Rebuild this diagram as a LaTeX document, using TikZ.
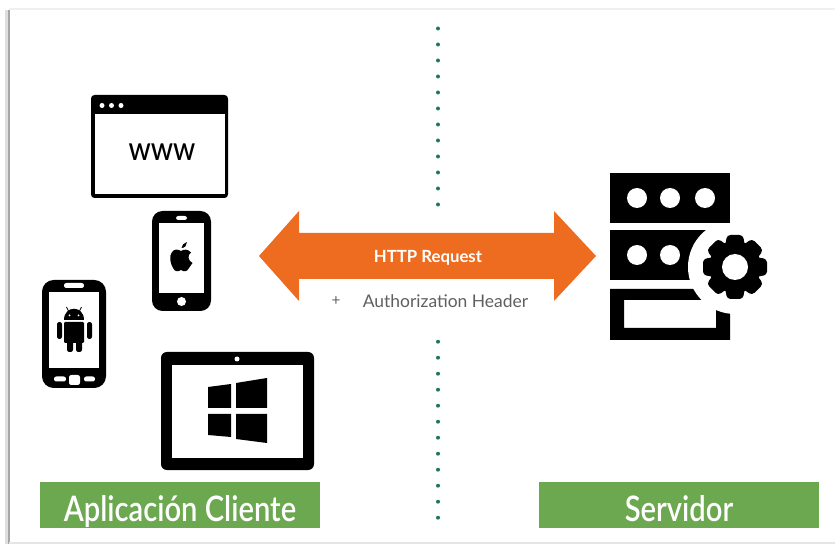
\documentclass[tikz,border=0pt]{standalone}
\usepackage{fontspec}
\setmainfont{Lato}
\newfontfamily\estrecha[FakeStretch=0.83]{Lato Semibold}
\newfontfamily\estrechab[FakeStretch=0.86]{Lato Medium}
\definecolor{flecha}{HTML}{EE6C1F}
\definecolor{verde}{HTML}{6CA84F}
\definecolor{punto}{HTML}{1F7A4D}
\definecolor{texto}{HTML}{5F5F5F}
\tikzset{
  device/.style={fill=black,rounded corners=5},
  blanco/.style={fill=white},
  greenbox/.style={fill=verde,text=white,minimum width=8.37cm,minimum height=1.38cm,inner sep=0pt},
}

\begin{document}
\begin{tikzpicture}[x=0.03cm,y=-0.03cm]
\useasboundingbox (0,0) rectangle (835,544);

% marco
\draw [line width=2.5,color=gray!25] (6.5,10) -- (6.5,544);
\draw [line width=2,color=gray!70] (9,10) -- (9,544);
\draw [line width=2,color=gray!12] (9,9) -- (835,9);
\draw [line width=1.5,color=gray!20] (9,543) -- (835,543);

% linea de puntos
\foreach \i in {0,...,11} \fill[punto] (438,28.5+16*\i) circle (2);
\foreach \i in {0,...,11} \fill[punto] (438,341.7+16*\i) circle (2);

% navegador
\fill[device,rounded corners=3] (91,95) rectangle (228,198);
\fill[blanco] (94.5,114) rectangle (224.5,194.5);
\fill[blanco] (102,105.5) circle (2.5);
\fill[blanco] (111.5,105.5) circle (2.5);
\fill[blanco] (121,105.5) circle (2.5);
\node (www) at (162,152) {\estrechab\fontsize{28}{28}\selectfont www};

% iphone
\fill[device,rounded corners=9] (152,211) rectangle (211,311);
\fill[blanco] (159,223) rectangle (204,293);
\fill[blanco,rounded corners=2] (176,216) rectangle (187,220);
\fill[blanco] (181.5,301.5) circle (4.5);
\fill (181,251) .. controls (178,249) and (174,249) .. (172,252) .. controls (169,256) and (170,263) .. (173,268) .. controls (175,272) and (178,272) .. (181,270) .. controls (184,272) and (187,272) .. (189,268) .. controls (190,266) and (192,264) .. (192.5,263) .. controls (188,261) and (187,255) .. (191,252.5) .. controls (188,249) and (184,249) .. (181,251) -- cycle;
\fill (181.5,248) .. controls (181.5,245) and (184,243) .. (187,242) .. controls (187,245) and (185,248) .. (181.5,248) -- cycle;

% android
\fill[device,rounded corners=10] (42,280) rectangle (106,388);
\fill[blanco] (49,292) rectangle (99,368);
\fill[blanco,rounded corners=2] (64,283) rectangle (84,288);
\fill[blanco,rounded corners=2] (54,376.5) rectangle (66,381.5);
\fill[blanco,rounded corners=2] (69,375) rectangle (80,385);
\fill[blanco,rounded corners=2] (84,376.5) rectangle (95,381.5);
\fill (64,320) .. controls (64,305) and (84,305) .. (84,320) -- cycle;
\fill[rounded corners=1] (64,322) -- (84,322) -- (84,343) -- (64,343) -- cycle;
\fill[rounded corners=2] (57,322) rectangle (62,339);
\fill[rounded corners=2] (87,322) rectangle (92,339);
\fill[rounded corners=2] (67,340) rectangle (73,352);
\fill[rounded corners=2] (76,340) rectangle (82,352);
\draw[line width=0.7] (66.5,307) -- (69,312);
\draw[line width=0.7] (81.5,307) -- (79,312);
\fill[blanco] (69.5,315.5) circle (1);
\fill[blanco] (78.5,315.5) circle (1);

% tablet
\fill[device] (161,352) rectangle (314,470);
\fill[blanco] (172,365) rectangle (303,458);
\fill[blanco] (237,359) circle (2.5);
\fill (208,387) -- (231,384) -- (231,408) -- (208,408) -- cycle;
\fill (236,383) -- (267,378) -- (267,408) -- (236,408) -- cycle;
\fill (208,414) -- (231,414) -- (231,437) -- (208,435) -- cycle;
\fill (236,414) -- (267,414) -- (267,443) -- (236,439) -- cycle;

% flecha
\fill[flecha] (259,256) -- (299,211) -- (299,233) -- (554,233) -- (554,211) -- (596,256) -- (554,301) -- (554,279) -- (299,279) -- (299,301) -- cycle;
\node (http) at (428,258) [text=white,font=\bfseries] {\fontsize{14.3}{14.3}\selectfont HTTP Request};
\node (mas) at (336,301) [text=texto] {\fontsize{13}{13}\selectfont +};
\node (auth) at (445.5,301) [text=texto] {\fontsize{14.9}{14.9}\selectfont Authorization Header};

% servidor
\fill (610,230) rectangle (730,280);
\fill[blanco] (637,255) circle (10);
\fill[blanco] (670,255) circle (10);
\fill[even odd rule] (610,289) rectangle (730,340) (624,300) rectangle (716,328);
\fill[blanco] (735,267) circle (47);
\fill (610,173) rectangle (730,223);
\fill[blanco] (637,198) circle (10);
\fill[blanco] (670,198) circle (10);
\fill[blanco] (705,198) circle (10);

% engrane
\fill (735,267) circle (26);
\foreach \a in {0,45,...,315}
  \fill[rotate around={\a:(735,267)},rounded corners=3] (725,247) -- (727,235) -- (743,235) -- (745,247) -- cycle;
\fill[blanco] (735,267) circle (13);

% etiquetas
\node (cliente) at (180,505) [greenbox] {\smash{\raisebox{-14.5pt}{\estrecha\fontsize{30}{30}\selectfont Aplicación Cliente}}};
\node (servidor) at (679,505) [greenbox] {\smash{\raisebox{-14.5pt}{\estrecha\fontsize{30}{30}\selectfont Servidor}}};
\end{tikzpicture}
\end{document}
